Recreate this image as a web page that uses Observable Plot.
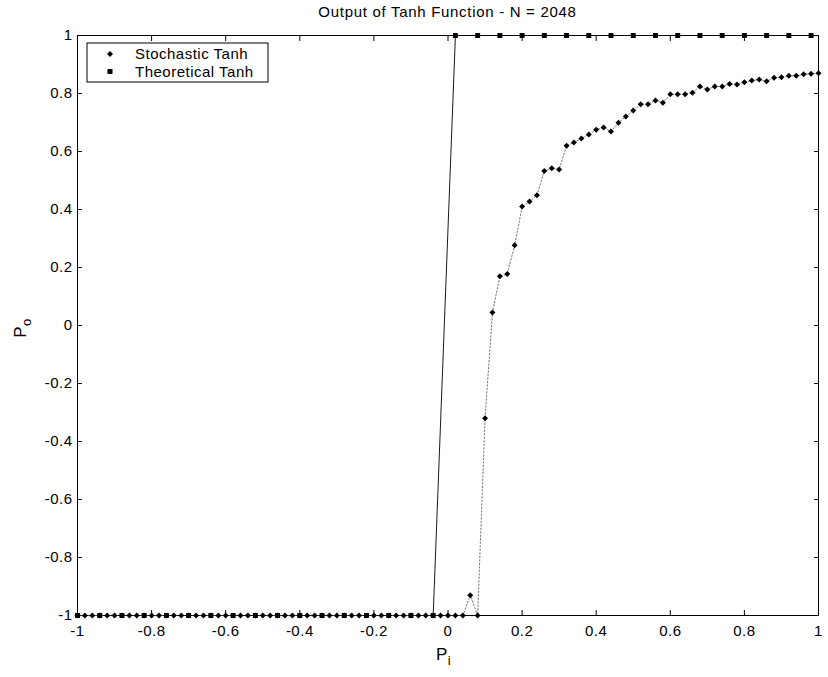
<!DOCTYPE html>
<html><head><meta charset="utf-8">
<script src="https://cdn.jsdelivr.net/npm/d3@7"></script>
<script src="https://cdn.jsdelivr.net/npm/@observablehq/plot@0.6"></script>
<style>
body{margin:0;background:#fff;}
svg{font-family:"Liberation Sans",Arial,Helvetica,sans-serif;}
</style>
</head><body><div id="chart"></div>
<script>
const title = "Output of Tanh Function - N = 2048";
const seriesNames = ["Stochastic Tanh", "Theoretical Tanh"];
const xTicks = [-1, -0.8, -0.6, -0.4, -0.2, 0, 0.2, 0.4, 0.6, 0.8, 1];
const yTicks = [-1, -0.8, -0.6, -0.4, -0.2, 0, 0.2, 0.4, 0.6, 0.8, 1];

// Stochastic Tanh: sampled at Pi = -1, -0.98, ..., 1
const stochX = d3.range(101).map(i => +(-1 + i * 0.02).toFixed(2));
const stochY = [
  -1,-1,-1,-1,-1,-1,-1,-1,-1,-1,
  -1,-1,-1,-1,-1,-1,-1,-1,-1,-1,
  -1,-1,-1,-1,-1,-1,-1,-1,-1,-1,
  -1,-1,-1,-1,-1,-1,-1,-1,-1,-1,
  -1,-1,-1,-1,-1,-1,-1,-1,-1,-1,
  -1,-1,-1,
  -0.93, -1, -0.32, 0.045, 0.17, 0.178, 0.277, 0.41, 0.428, 0.449,
  0.533, 0.542, 0.538, 0.62, 0.631, 0.645, 0.659, 0.675,
  0.683, 0.669, 0.699, 0.721, 0.741, 0.763, 0.763, 0.776, 0.768, 0.797,
  0.797, 0.797, 0.803, 0.824, 0.814, 0.824, 0.824, 0.833, 0.831, 0.839,
  0.845, 0.848, 0.842, 0.854, 0.856, 0.861, 0.861, 0.866, 0.868, 0.870
];
// Theoretical Tanh: sampled at Pi = -1, -0.94, ..., 0.98
const theoX = d3.range(34).map(i => +(-1 + i * 0.06).toFixed(2));
const theoY = [
  -1,-1,-1,-1,-1,-1,-1,-1,-1,-1,-1,-1,-1,-1,-1,-1,-1,
   1, 1, 1, 1, 1, 1, 1, 1, 1, 1, 1, 1, 1, 1, 1, 1, 1
];

const stoch = stochX.map((x, i) => ({x, y: stochY[i]}));
const theo = theoX.map((x, i) => ({x, y: theoY[i]}));
const fmt = d => String(+(+d).toFixed(1));

const W = 828, H = 677, ML = 77, MR = 10, MT = 35, MB = 62;
const FS = 15;

const plot = Plot.plot({
  width: W, height: H,
  marginLeft: ML, marginRight: MR, marginTop: MT, marginBottom: MB,
  style: {fontSize: FS + "px", fontFamily: "Liberation Sans, Arial, sans-serif", color: "black", background: "white", letterSpacing: "0.5px"},
  x: {domain: [-1, 1]},
  y: {domain: [-1, 1]},
  marks: [
    Plot.axisX(xTicks, {anchor: "bottom", tickSize: -5, tickPadding: 15, tickFormat: fmt, label: null, fontSize: FS, fill: "black"}),
    Plot.axisX(xTicks, {anchor: "top", tickSize: -5, tickFormat: () => "", label: null}),
    Plot.axisY(yTicks, {anchor: "left", tickSize: -5, tickPadding: 10, tickFormat: fmt, label: null, fontSize: FS, fill: "black"}),
    Plot.axisY(yTicks, {anchor: "right", tickSize: -5, tickFormat: () => "", label: null}),
    Plot.frame({stroke: "black", strokeWidth: 1}),
    Plot.line(theo, {x: "x", y: "y", stroke: "black", strokeWidth: 0.9}),
    Plot.line(stoch, {x: "x", y: "y", stroke: "#555", strokeWidth: 0.8, strokeDasharray: "1.5,2"}),
    Plot.dot(theo, {x: "x", y: "y", symbol: "square", r: 2.8, fill: "black", stroke: "none"}),
    Plot.dot(stoch, {x: "x", y: "y", symbol: "diamond2", r: 2.7, fill: "black", stroke: "none"})
  ]
});

const svg = d3.select(plot);
// title
svg.append("text").attr("x", (ML + W - MR) / 2).attr("y", 17)
  .attr("text-anchor", "middle").attr("font-size", FS).attr("letter-spacing", "0.7px").attr("fill", "black").text(title);
// x label P_i
const xl = svg.append("text").attr("x", (ML + W - MR) / 2 - 4).attr("y", 660)
  .attr("text-anchor", "middle").attr("font-size", 17).attr("fill", "black");
xl.append("tspan").text("P");
xl.append("tspan").attr("font-size", 13).attr("dy", 5).text("i");
// y label P_o
const yl = svg.append("text").attr("transform", "translate(26,328) rotate(-90)")
  .attr("text-anchor", "middle").attr("font-size", 17).attr("fill", "black");
yl.append("tspan").text("P");
yl.append("tspan").attr("font-size", 13).attr("dy", 5).text("o");

// legend
const lg = svg.append("g");
lg.append("rect").attr("x", 87).attr("y", 43).attr("width", 181).attr("height", 39)
  .attr("fill", "white").attr("stroke", "black").attr("stroke-width", 1);
lg.append("path").attr("d", d3.symbol(d3.symbolDiamond2, Math.PI * 2.7 * 2.7)())
  .attr("transform", "translate(110,54)").attr("fill", "black");
lg.append("rect").attr("x", 107.5).attr("y", 69).attr("width", 5).attr("height", 5).attr("fill", "black");
lg.append("text").attr("x", 135).attr("y", 59).attr("text-anchor", "start").attr("font-size", FS).attr("fill", "black").text(seriesNames[0]);
lg.append("text").attr("x", 135).attr("y", 77).attr("text-anchor", "start").attr("font-size", FS).attr("fill", "black").text(seriesNames[1]);

document.getElementById("chart").appendChild(plot);
</script>
</body></html>
